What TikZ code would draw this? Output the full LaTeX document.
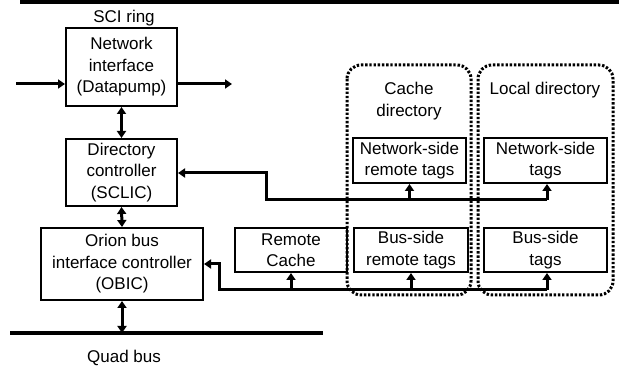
\documentclass[tikz,border=0pt]{standalone}
\usepackage{fontspec}
\setmainfont{Liberation Sans}
\usetikzlibrary{arrows.meta}
\begin{document}
\begin{tikzpicture}[x=1pt,y=-1pt,
  blk/.style={draw,line width=2pt,inner sep=0pt,align=center,
    font=\fontsize{17}{21.5}\selectfont},
  lbl/.style={inner sep=0pt,align=center,font=\fontsize{17}{21.5}\selectfont},
  group/.style={draw,line width=3pt,dash pattern=on 2.4pt off 1.8pt,rounded corners=14pt},
  wire/.style={line width=3pt,-{Triangle[length=7pt,width=9pt]}},
  dbl/.style={line width=3pt,{Triangle[length=7pt,width=9pt]}-{Triangle[length=7pt,width=9pt]}},
  bus/.style={line width=3.6pt}]
\useasboundingbox (0,0) rectangle (619,371);

% dotted groupings
\draw[group] (347,65) rectangle (471,295);
\draw[group] (478,65) rectangle (613,295);

% ring and bus lines
\coordinate (ringL) at (20,2);
\coordinate (ringR) at (619,2);
\draw[bus] (ringL) -- (ringR);
\coordinate (qbL) at (10,333);
\coordinate (qbR) at (323,333);
\draw[bus] (qbL) -- (qbR);

\node[lbl] (sci) at (124,18) {SCI ring};
\node[lbl] (quad) at (124,358) {Quad bus};

% blocks
\node[blk,minimum width=111pt,minimum height=78pt] (ni) at (121.5,67) {Network\\interface\\(Datapump)};
\node[blk,minimum width=111pt,minimum height=67pt] (dc) at (121.5,172.5) {Directory\\controller\\(SCLIC)};
\node[blk,minimum width=162pt,minimum height=72pt] (obic) at (122,264) {Orion bus\\interface controller\\(OBIC)};
\node[blk,minimum width=112pt,minimum height=44pt] (rc) at (291,250) {Remote\\Cache};
\node[blk,minimum width=114pt,minimum height=44pt] (bsr) at (411,250) {Bus-side\\remote tags};
\node[blk,minimum width=123pt,minimum height=44pt] (bst) at (545.5,250) {Bus-side\\tags};
\node[blk,minimum width=113pt,minimum height=45pt] (nsr) at (409.5,160.5) {Network-side\\remote tags};
\node[blk,minimum width=123pt,minimum height=45pt] (nst) at (545.5,160.5) {Network-side\\tags};

\node[lbl] (cdl) at (409,101) {Cache\\directory};
\node[lbl] (ldl) at (545,90) {Local directory};

% ring in/out
\coordinate (inL) at (16,84);
\coordinate (outR) at (232,84);
\draw[wire] (inL) -- (ni.west |- inL);
\draw[wire] (ni.east |- outR) -- (outR);

% vertical double arrows
\draw[dbl] (ni.south) -- (dc.north);
\draw[dbl] (dc.south) -- (obic.north);
\draw[dbl] (obic.south) -- (obic.south |- qbL);

% network-side tag path
\coordinate (n1) at (266,173);
\coordinate (n2) at (266,200);
\coordinate (n3) at (547,200);
\draw[wire] (n3) -- (n2) -- (n1) -- (dc.east |- n1);
\draw[wire] (nsr.south |- n2) -- (nsr.south);
\draw[wire] (n3) -- (nst.south -| n3);

% bus-side path
\coordinate (b1) at (219,264);
\coordinate (b2) at (219,290);
\coordinate (b3) at (547,290);
\draw[wire] (b3) -- (b2) -- (b1) -- (obic.east |- b1);
\draw[wire] (rc.south |- b2) -- (rc.south);
\draw[wire] (bsr.south |- b2) -- (bsr.south);
\draw[wire] (b3) -- (bst.south -| b3);
\end{tikzpicture}
\end{document}
